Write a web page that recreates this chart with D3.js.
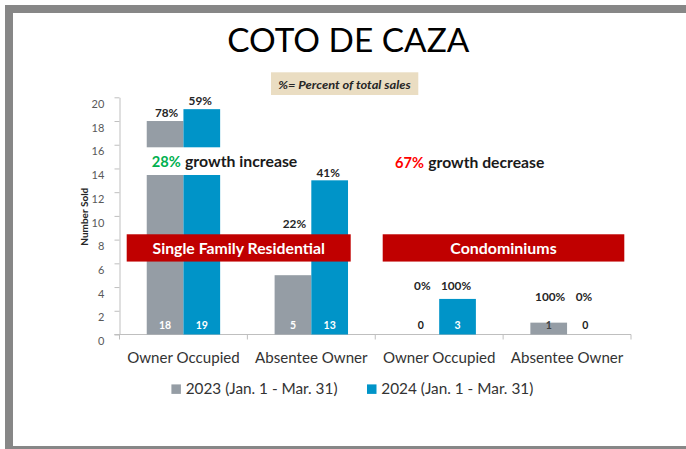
<!DOCTYPE html>
<html><head><meta charset="utf-8">
<script src="https://cdn.jsdelivr.net/npm/d3@7/dist/d3.min.js"></script>
<style>
body{margin:0;background:#fff}
svg{display:block}
text{font-family:Lato,'Open Sans',sans-serif}
</style>
</head><body>
<svg id="c" width="686" height="449"></svg>
<script>
// ---- data ----
const categories = ["Owner Occupied","Absentee Owner","Owner Occupied","Absentee Owner"];
const seriesNames = ["2023 (Jan. 1 - Mar. 31)","2024 (Jan. 1 - Mar. 31)"];
const sales2023 = [18,5,0,1];
const sales2024 = [19,13,3,0];
const pct2023 = ["78%","22%","0%","100%"];
const pct2024 = ["59%","41%","100%","0%"];
const yTicks = [0,2,4,6,8,10,12,14,16,18,20];
const groupNames = ["Single Family Residential","Condominiums"];
const growthPct = ["28%","67%"];
const growthWords = ["growth increase","growth decrease"];
const titleText = "COTO DE CAZA";
const noteText = "%= Percent of total sales";

// ---- layout (not data) ----
const pctLevel = [[18.36,19.34],[8.95,13.25],[3.75,3.75],[2.82,2.82]]; // label baselines in value units
const colors = ["#959DA5","#0094C8"];

const svg = d3.select("#c");
function fit(sel, w){ sel.attr("textLength", w).attr("lengthAdjust","spacingAndGlyphs"); return sel; }

// frame
svg.append("rect").attr("x",5).attr("y",5).attr("width",681).attr("height",8).attr("fill","#878787");
svg.append("rect").attr("x",5).attr("y",5).attr("width",8).attr("height",444).attr("fill","#878787");
svg.append("rect").attr("x",5).attr("y",446).attr("width",681).attr("height",3).attr("fill","#878787");

// title
fit(svg.append("text").attr("x",348.3).attr("y",51.7).attr("text-anchor","middle")
  .attr("font-size",32.5).attr("fill","#000").text(titleText), 242);

// note box
svg.append("rect").attr("x",271).attr("y",72.3).attr("width",147.3).attr("height",22.7).attr("fill","#EADDC2");
fit(svg.append("text").attr("x",344.5).attr("y",88.6).attr("text-anchor","middle")
  .attr("font-size",11.5).attr("font-weight","bold").attr("font-style","italic").attr("fill","#262626").text(noteText), 132.4);

// scales
const x0 = d3.scaleBand().domain(d3.range(categories.length)).range([119.5,631]).padding(0);
const x1 = d3.scaleBand().domain([0,1]).range([0,x0.bandwidth()]).paddingInner(0).paddingOuter(0.742);
const y = d3.scaleLinear().domain([0,20]).range([334.5,97.3]);

// y axis
const ya = svg.append("g").attr("transform","translate(119.5,0)")
  .call(d3.axisLeft(y).tickValues(yTicks).tickSize(5).tickPadding(10.2).tickSizeOuter(0));
ya.select(".domain").attr("stroke","#BFBFBF");
ya.selectAll(".tick line").attr("stroke","#BFBFBF");
ya.selectAll(".tick text").attr("font-size",11).attr("fill","#595959").attr("dy","0.92em")
  .style("font-family","Lato,'Open Sans',sans-serif");

fit(svg.append("text").attr("transform","translate(87.7,216.7) rotate(-90)").attr("text-anchor","middle")
  .attr("font-size",10).attr("font-weight","bold").attr("fill","#262626").text("Number Sold"), 58);

// x axis
const xa = svg.append("g").attr("transform",`translate(0,${y(0)})`)
  .call(d3.axisBottom(x0).tickSize(0).tickPadding(17.9).tickFormat(i=>categories[i]));
xa.select(".domain").remove();
xa.selectAll(".tick text").attr("font-size",15).attr("fill","#333").attr("dy","0.71em")
  .style("font-family","Lato,'Open Sans',sans-serif")
  .each(function(){ fit(d3.select(this),112.5); });
svg.append("line").attr("x1",114.3).attr("x2",x0.range()[1]).attr("y1",y(0)).attr("y2",y(0)).attr("stroke","#BFBFBF");
svg.append("g").selectAll("line").data(d3.range(categories.length+1)).join("line")
  .attr("x1",i=>x0.range()[0]+i*x0.step()).attr("x2",i=>x0.range()[0]+i*x0.step())
  .attr("y1",y(0)).attr("y2",y(0)+5).attr("stroke","#BFBFBF");

// bars
const series = [sales2023, sales2024];
const barG = svg.append("g");
series.forEach((vals,s)=>{
  barG.selectAll(null).data(vals).join("rect")
    .attr("x",(d,i)=>x0(i)+x1(s)).attr("width",x1.bandwidth())
    .attr("y",d=>y(d)).attr("height",d=>y(0)-y(d)).attr("fill",colors[s]);
});

// white break behind growth text
svg.append("rect").attr("x",140).attr("y",147.3).attr("width",165).attr("height",27.7).attr("fill","#fff");

// growth texts
const gx = [[151.7,185],[395,428.3]];
const gw = [[29,112.3],[29,116]];
const gy = [166.5,167.7];
const gcol = ["#00B050","#FF0000"];
growthPct.forEach((p,k)=>{
  fit(svg.append("text").attr("x",gx[k][0]).attr("y",gy[k]).attr("font-size",15).attr("font-weight","bold")
    .attr("fill",gcol[k]).text(p), gw[k][0]);
  fit(svg.append("text").attr("x",gx[k][1]).attr("y",gy[k]).attr("font-size",15).attr("font-weight","bold")
    .attr("fill","#1a1a1a").text(growthWords[k]), gw[k][1]);
});

// banners
const banX = [[126.7,350.7],[382.7,624.3]];
const banW = [172.3,106.3];
groupNames.forEach((g,k)=>{
  svg.append("rect").attr("x",banX[k][0]).attr("width",banX[k][1]-banX[k][0])
    .attr("y",y(8.45)).attr("height",y(6.15)-y(8.45)).attr("fill","#C00000");
  fit(svg.append("text").attr("x",(banX[k][0]+banX[k][1])/2).attr("y",253.5).attr("text-anchor","middle")
    .attr("font-size",15.5).attr("font-weight","bold").attr("fill","#fff").text(g), banW[k]);
});

// percent labels
const pcts = [pct2023, pct2024];
pcts.forEach((arr,s)=>{
  svg.append("g").selectAll("text").data(arr).join("text")
    .attr("x",(d,i)=>x0(i)+x1(s)+x1.bandwidth()/2 + (s===0?1.5:-1.5))
    .attr("y",(d,i)=>y(pctLevel[i][s])).attr("text-anchor","middle")
    .attr("font-size",11.8).attr("font-weight","bold").attr("fill","#262626").text(d=>d);
});

// value labels at base of bars
series.forEach((vals,s)=>{
  svg.append("g").selectAll("text").data(vals).join("text")
    .attr("x",(d,i)=>x0(i)+x1(s)+x1.bandwidth()/2).attr("y",329)
    .attr("text-anchor","middle").attr("font-size",10.5).attr("font-weight","bold")
    .attr("fill",d=> d===0 ? "#1a1a1a" : (d===1 ? "#404040" : "#fff")).text(d=>d);
});

// legend
const legX = [171.4,367];
const legW = [151.8,152];
seriesNames.forEach((n,s)=>{
  svg.append("rect").attr("x",legX[s]).attr("y",384.4).attr("width",9.5).attr("height",9.5).attr("fill",colors[s]);
  fit(svg.append("text").attr("x",legX[s]+14.3).attr("y",394).attr("font-size",15).attr("fill","#333").text(n), legW[s]);
});
</script>
</body></html>
